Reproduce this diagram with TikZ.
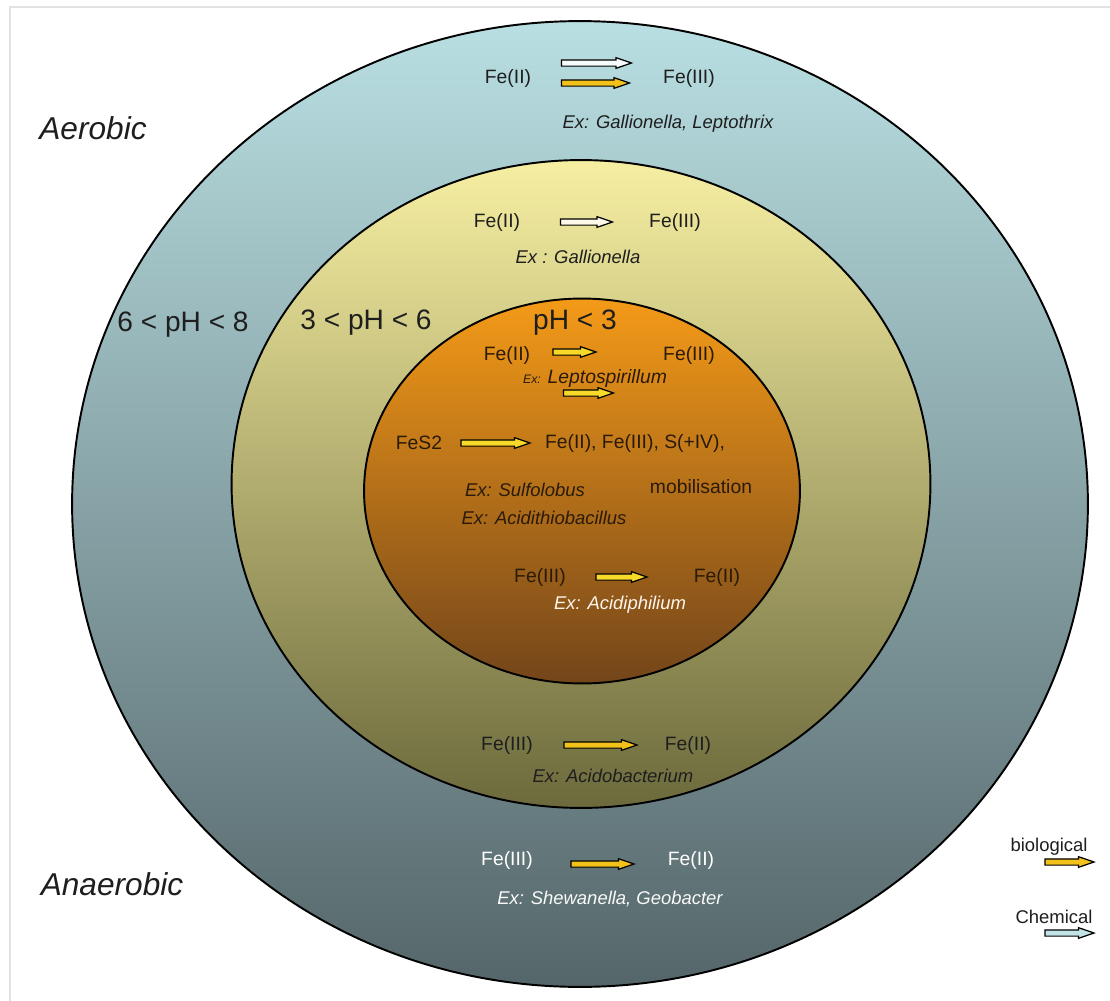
\documentclass[tikz,border=0pt]{standalone}
\usepackage{fontspec}
\setmainfont{Liberation Sans}
\usetikzlibrary{shapes.geometric,shapes.arrows}
\definecolor{outtop}{HTML}{B9DFE2}
\definecolor{outbot}{HTML}{55666A}
\definecolor{midtop}{HTML}{F6EFA2}
\definecolor{midbot}{HTML}{6C6A3C}
\definecolor{intop}{HTML}{F49A18}
\definecolor{inbot}{HTML}{73451A}
\definecolor{bioyel}{HTML}{F2C21A}
\definecolor{chemblue}{HTML}{C2E4E7}
\definecolor{darktxt}{HTML}{1E1E1E}
\definecolor{inntxt}{HTML}{2A1A08}
\definecolor{frame}{HTML}{E2E2E2}
\tikzset{
  zone/.style={ellipse, draw=black, line width=1.1pt, inner sep=0pt},
  arr/.style={single arrow, draw=black, line width=0.7pt, inner xsep=0pt, inner ysep=0.05cm,
    single arrow head extend=0.045cm, single arrow tip angle=38, shape border rotate=0},
  bio/.style={arr, fill=bioyel},
  chem/.style={arr, fill=chemblue},
  fe/.style={font=\fontsize{11}{13}\selectfont, text=darktxt, inner sep=1pt},
  ex/.style={font=\fontsize{10.5}{12}\selectfont\itshape, text=darktxt, inner sep=1pt},
  ph/.style={font=\fontsize{16}{19}\selectfont, text=darktxt, inner sep=1pt},
  big/.style={font=\fontsize{18}{21}\selectfont\itshape, text=darktxt, inner sep=1pt},
  leg/.style={font=\fontsize{10.5}{12}\selectfont, text=darktxt, inner sep=1pt}
}
\begin{document}
\begin{tikzpicture}[x=0.02cm, y=-0.02cm]
\useasboundingbox (0,0) rectangle (1110,1001);
\fill[white] (0,0) rectangle (1110,1001);
\draw[frame, line width=1.2pt] (10,1001) -- (10,7) -- (1110,7);
% zones
\node[zone, top color=outtop, bottom color=outbot, minimum width=20.32cm, minimum height=19.32cm] (outer) at (580,504) {};
\node[zone, top color=midtop, bottom color=midbot, minimum width=13.98cm, minimum height=12.96cm] (middle) at (581,484) {};
\node[zone, top color=intop, bottom color=inbot, minimum width=8.72cm, minimum height=7.7cm] (inner) at (582,491) {};
% big labels
\node[big] (aer) at (93,128) {Aerobic};
\node[big] (anaer) at (112,884) {Anaerobic};
\node[ph] (ph1) at (183,325) {6 < pH < 8};
\node[ph] (ph2) at (366,323) {3 < pH < 6};
\node[ph] (ph3) at (575,323) {pH < 3};
% outer top
\node[fe] (o1a) at (508,78) {Fe(II)};
\node[fe] (o1b) at (689,78) {Fe(III)};
\node[chem, fill=white!85!chemblue, minimum height=1.4cm] (o1c) at (592,63) {};
\node[bio, minimum height=1.36cm] (o1d) at (591,83) {};
\node[ex] (o1e) at (668,124) {Ex: Gallionella, Leptothrix};
% middle top
\node[fe] (m1a) at (497,222) {Fe(II)};
\node[fe] (m1b) at (675,222) {Fe(III)};
\node[arr, fill=white!90!bioyel, minimum height=1.04cm] (m1c) at (582,222) {};
\node[ex] (m1e) at (578,257) {Ex : Gallionella};
% inner
\node[fe, text=inntxt] (i1a) at (507,355) {Fe(II)};
\node[fe, text=inntxt] (i1b) at (689,355) {Fe(III)};
\node[bio, fill=bioyel!70!yellow!90!white, minimum height=0.86cm] (i1c) at (570,352) {};
\node[ex, text=inntxt] (i1e) at (595,378) {{\fontsize{7}{8}\selectfont Ex:} \fontsize{11}{13}\selectfont Leptospirillum};
\node[bio, fill=bioyel!70!yellow!90!white, minimum height=1.0cm] (i2c) at (584,393) {};
\node[fe, text=inntxt] (i3a) at (419,443) {FeS2};
\node[bio, fill=bioyel!70!yellow!90!white, minimum height=1.38cm] (i3c) at (491,443) {};
\node[fe, text=inntxt] (i3b) at (635,443) {Fe(II), Fe(III), S(+IV),};
\node[fe, text=inntxt] (i3d) at (701,487) {mobilisation};
\node[ex, text=inntxt] (i3e) at (525,490) {Ex: Sulfolobus};
\node[ex, text=inntxt] (i3f) at (544,518) {Ex: Acidithiobacillus};
\node[fe, text=inntxt] (i4a) at (540,577) {Fe(III)};
\node[bio, fill=bioyel!70!yellow!90!white, minimum height=1.02cm] (i4c) at (617,577) {};
\node[fe, text=inntxt] (i4b) at (717,577) {Fe(II)};
\node[ex, text=white!92!orange] (i4e) at (620,605) {Ex: Acidiphilium};
% middle bottom
\node[fe] (m2a) at (507,745) {Fe(III)};
\node[bio, minimum height=1.46cm] (m2c) at (596,745) {};
\node[fe] (m2b) at (688,745) {Fe(II)};
\node[ex] (m2e) at (613,776) {Ex: Acidobacterium};
% outer bottom
\node[fe, text=white] (o2a) at (507,860) {Fe(III)};
\node[bio, minimum height=1.26cm] (o2c) at (598,864) {};
\node[fe, text=white] (o2b) at (691,860) {Fe(II)};
\node[ex, text=white!95!gray] (o2e) at (610,899) {Ex: Shewanella, Geobacter};
% legend
\node[leg] (lg1) at (1049,847) {biological};
\node[bio, minimum height=0.98cm] (lg1a) at (1065,862) {};
\node[leg] (lg2) at (1054,917) {Chemical};
\node[chem, minimum height=0.98cm] (lg2a) at (1065,933) {};
\end{tikzpicture}
\end{document}
